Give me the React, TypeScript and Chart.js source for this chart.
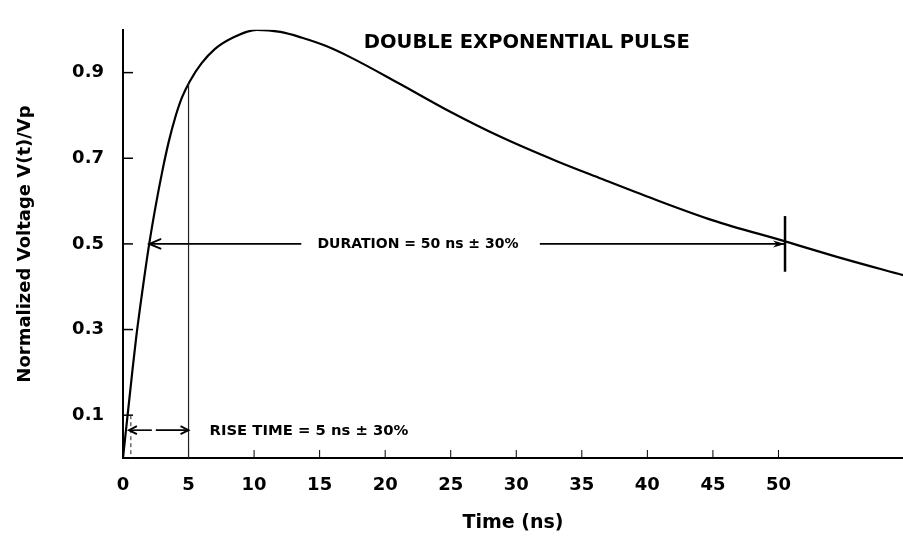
import React, { useEffect, useRef } from 'react';
import { Chart, registerables } from 'chart.js';

Chart.register(...registerables);

// ---- data ----
const timeNs = [0, 0.35, 0.65, 1.0, 1.5, 2.0, 2.5, 3.0, 3.5, 4.0, 4.5, 5.1, 6.0, 7.0, 8.4, 10.2, 12, 13.6, 15.5, 17.4, 21.1, 25.0, 28.8, 33.1, 36.5, 40.3, 45, 50.5, 55, 59.5];
const voltage = [0, 0.1, 0.185, 0.28, 0.395, 0.5, 0.59, 0.67, 0.74, 0.797, 0.842, 0.88, 0.922, 0.955, 0.982, 1.0, 0.995, 0.982, 0.962, 0.935, 0.874, 0.808, 0.75, 0.693, 0.652, 0.607, 0.555, 0.506, 0.465, 0.427];

const xTickValues = [0, 5, 10, 15, 20, 25, 30, 35, 40, 45, 50];
const xTickLabels = ['0', '5', '10', '15', '20', '25', '30', '35', '40', '45', '50'];
const yTickValues = [0.1, 0.3, 0.5, 0.7, 0.9];
const yTickLabels = ['0.1', '0.3', '0.5', '0.7', '0.9'];

const chartTitle = 'DOUBLE EXPONENTIAL PULSE';
const xTitle = 'Time (ns)';
const yTitle = 'Normalized Voltage V(t)/Vp';
const durationText = 'DURATION = 50 ns ± 30%';
const riseText = 'RISE TIME = 5 ns ± 30%';

// annotation values (data units)
const durationLevel = 0.5;
const durationSpan = [2.0, 13.6, 31.8, 50.5]; // start, gap start, gap end, end
const durationMarker = [0.435, 0.565];
const riseLevel = 0.065;
const riseSpan = [0.45, 2.2, 2.5, 5.0];
const riseRefLine = [5.0, 0.875];
const startRefLine = [0.6, 0.1];
const titlePos = [30.8, 0.969];
const durationTextPos = [22.5, 0.5];
const riseTextPos = [6.6, 0.063];

const BOLD = 'bold';
const FONT = 'DejaVu Sans';

const annotationPlugin = {
  id: 'annotations',
  afterDraw(chart: any) {
    const ctx = chart.ctx as CanvasRenderingContext2D;
    const xs = chart.scales.x;
    const ys = chart.scales.y;
    const X = (v: number) => xs.getPixelForValue(v);
    const Y = (v: number) => ys.getPixelForValue(v);
    const area = chart.chartArea;
    ctx.save();
    ctx.strokeStyle = '#000';
    ctx.fillStyle = '#000';

    // inward ticks
    ctx.lineWidth = 1.5;
    yTickValues.forEach((v) => {
      ctx.beginPath();
      ctx.moveTo(area.left, Y(v));
      ctx.lineTo(area.left + 10, Y(v));
      ctx.stroke();
    });
    ctx.lineWidth = 1;
    xTickValues.forEach((v) => {
      if (v === 0) return;
      ctx.beginPath();
      ctx.moveTo(X(v), area.bottom);
      ctx.lineTo(X(v), area.bottom - 8);
      ctx.stroke();
    });

    const line = (x1: number, y1: number, x2: number, y2: number, w: number) => {
      ctx.lineWidth = w;
      ctx.beginPath();
      ctx.moveTo(x1, y1);
      ctx.lineTo(x2, y2);
      ctx.stroke();
    };
    const chevron = (x: number, y: number, dir: number, len: number, half: number) => {
      ctx.lineWidth = 1.8;
      ctx.beginPath();
      ctx.moveTo(x + dir * len, y - half);
      ctx.lineTo(x, y);
      ctx.lineTo(x + dir * len, y + half);
      ctx.stroke();
    };
    const filledHead = (x: number, y: number, dir: number, len: number, half: number) => {
      ctx.beginPath();
      ctx.moveTo(x, y);
      ctx.lineTo(x + dir * len, y - half);
      ctx.lineTo(x + dir * len * 0.7, y);
      ctx.lineTo(x + dir * len, y + half);
      ctx.closePath();
      ctx.fill();
    };

    // thin reference line at t = 5
    ctx.strokeStyle = '#222';
    line(X(riseRefLine[0]), Y(riseRefLine[1]), X(riseRefLine[0]), Y(0), 1.2);
    // dashed reference near origin
    ctx.setLineDash([4, 3]);
    line(X(startRefLine[0]), Y(startRefLine[1]), X(startRefLine[0]), Y(0), 1);
    ctx.setLineDash([]);
    ctx.strokeStyle = '#000';

    // duration arrow
    const dy = Y(durationLevel);
    line(X(durationSpan[0]), dy, X(durationSpan[1]), dy, 1.8);
    line(X(durationSpan[2]), dy, X(durationSpan[3]), dy, 1.8);
    chevron(X(durationSpan[0]), dy, 1, 12, 5);
    filledHead(X(durationSpan[3]), dy, -1, 12, 3.5);
    line(X(durationSpan[3]), Y(durationMarker[0]), X(durationSpan[3]), Y(durationMarker[1]), 2.5);

    // rise time arrow
    const ry = Y(riseLevel);
    line(X(riseSpan[0]), ry, X(riseSpan[1]), ry, 1.6);
    line(X(riseSpan[2]), ry, X(riseSpan[3]), ry, 1.6);
    chevron(X(riseSpan[0]), ry, 1, 8, 4);
    chevron(X(riseSpan[3]), ry, -1, 8, 4);

    // texts
    ctx.textBaseline = 'middle';
    ctx.textAlign = 'center';
    ctx.font = `${BOLD} 19.5px "${FONT}"`;
    ctx.fillText(chartTitle, X(titlePos[0]), Y(titlePos[1]));
    ctx.font = `${BOLD} 14px "${FONT}"`;
    ctx.fillText(durationText, X(durationTextPos[0]), Y(durationTextPos[1]));
    ctx.textAlign = 'left';
    ctx.font = `${BOLD} 14.8px "${FONT}"`;
    ctx.fillText(riseText, X(riseTextPos[0]), Y(riseTextPos[1]));

    // y-axis title
    ctx.save();
    ctx.translate(25, 244);
    ctx.rotate(-Math.PI / 2);
    ctx.textAlign = 'center';
    ctx.font = `${BOLD} 18px "${FONT}"`;
    ctx.fillText(yTitle, 0, 0);
    ctx.restore();

    ctx.restore();
  },
};

export default function App() {
  const ref = useRef<HTMLCanvasElement | null>(null);
  useEffect(() => {
    document.body.style.margin = '0';
    const canvas = ref.current;
    if (!canvas) return;
    const tickFont = { family: FONT, weight: BOLD as any, size: 18 };
    const chart = new Chart(canvas, {
      type: 'line',
      data: {
        datasets: [
          {
            data: timeNs.map((t, i) => ({ x: t, y: voltage[i] })),
            borderColor: '#000',
            borderWidth: 2.2,
            pointRadius: 0,
            fill: false,
            cubicInterpolationMode: 'monotone',
          },
        ],
      },
      options: {
        responsive: false,
        animation: false,
        events: [],
        layout: { padding: { top: 10, left: 0, right: 0, bottom: 0 } },
        plugins: {
          legend: { display: false },
          tooltip: { enabled: false },
          title: { display: false },
        },
        scales: {
          x: {
            type: 'linear',
            min: 0,
            max: 59.5,
            afterBuildTicks: (s: any) => {
              s.ticks = xTickValues.map((v) => ({ value: v }));
            },
            afterFit: (s: any) => {
              s.height = 82;
            },
            grid: { display: false, drawTicks: false },
            border: { display: true, color: '#000', width: 2 },
            ticks: {
              padding: 17,
              autoSkip: false,
              maxRotation: 0,
              color: '#000',
              font: tickFont,
              callback: (v: any) => {
                const i = xTickValues.indexOf(Number(v));
                return i >= 0 ? xTickLabels[i] : '';
              },
            },
            title: {
              display: true,
              text: xTitle,
              color: '#000',
              font: { family: FONT, weight: BOLD as any, size: 19 },
              padding: { top: 0, bottom: 6 },
            },
          },
          y: {
            type: 'linear',
            min: 0,
            max: 1.0,
            afterBuildTicks: (s: any) => {
              s.ticks = yTickValues.map((v) => ({ value: v }));
            },
            afterFit: (s: any) => {
              s.width = 123;
            },
            grid: { display: false, drawTicks: false },
            border: { display: true, color: '#000', width: 2 },
            ticks: {
              padding: 19,
              color: '#000',
              font: tickFont,
              callback: (v: any) => {
                const i = yTickValues.indexOf(Number(v));
                return i >= 0 ? yTickLabels[i] : '';
              },
            },
          },
        },
      },
      plugins: [annotationPlugin],
    });
    return () => chart.destroy();
  }, []);
  return (
    <div style={{ width: 903, height: 540 }}>
      <canvas ref={ref} width={903} height={540} style={{ display: 'block' }} />
    </div>
  );
}
